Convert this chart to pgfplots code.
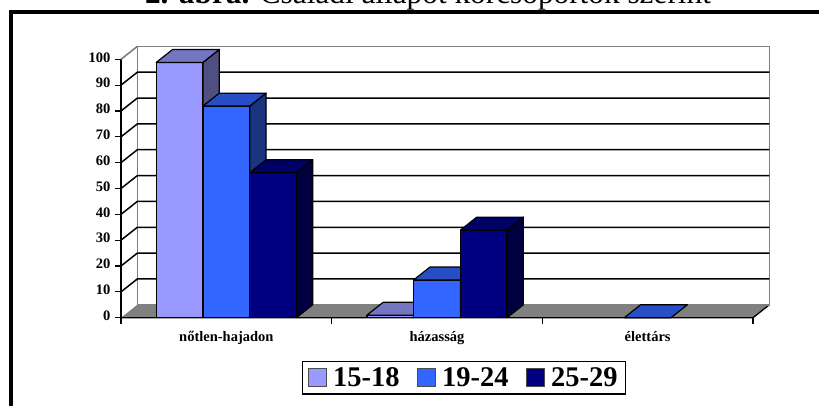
\documentclass[border=0pt]{standalone}
\usepackage{pgfplots}
\usepackage{pgfplotstable}
\usepackage{fontspec}
\setmainfont{Liberation Serif}
\pgfplotsset{compat=1.18}
\definecolor{aF}{HTML}{9999FF}\definecolor{aC}{HTML}{7575C4}\definecolor{aS}{HTML}{4F4F82}
\definecolor{bF}{HTML}{3366FF}\definecolor{bC}{HTML}{274EC4}\definecolor{bS}{HTML}{1A3580}
\definecolor{cF}{HTML}{000080}\definecolor{cC}{HTML}{000066}\definecolor{cS}{HTML}{000040}
\pgfplotstableread{
x    a     b     c
0.5  98.8  81.9  56.1
1.5  1.0   14.6  33.9
2.5  0     0     0
}\datatable
% side and top faces of a 3D bar
\newcommand\sideface[4]{%
  \pgfmathsetmacro\rr{#1+0.0775}\pgfmathsetmacro\vv{#2+5}%
  \addplot[forget plot,draw=black,line width=1.2pt,fill=#3,line join=round] coordinates {(#1,0) (\rr,5) (\rr,\vv) (#1,#2)} --cycle;}
\newcommand\capface[4]{%
  \pgfmathsetmacro\ll{#1+0.0775}\pgfmathsetmacro\rr{#2+0.0775}\pgfmathsetmacro\vv{#3+5}%
  \addplot[forget plot,draw=black,line width=1.2pt,fill=#4,line join=round] coordinates {(#1,#3) (\ll,\vv) (\rr,\vv) (#2,#3)} --cycle;}
\newcommand\wline[1]{%
  \pgfmathsetmacro\vv{#1+5}%
  \addplot[forget plot,black,line width=1.5pt] coordinates {(0,#1) (0.0775,\vv) (3.0775,\vv)};}
\begin{document}
\begin{tikzpicture}[x=1pt,y=1pt]
\useasboundingbox (0,0) rectangle (819,405);
\clip (0,0) rectangle (819,405);
\fill[white] (0,0) rectangle (819,405);
\draw[black,line width=4pt] (10.7,-5) -- (10.7,393) -- (830,393);
\node[font=\fontsize{31.3}{34}\selectfont,anchor=base] at (428,401) {\textbf{2. ábra.} Családi állapot korcsoportok szerint};
\begin{axis}[
  at={(121pt,87.3pt)},anchor=south west,scale only axis,width=632pt,height=258.4pt,
  xmin=0,xmax=3,ymin=0,ymax=100,clip=false,
  axis x line=bottom,axis y line=left,
  axis line style={-,black,line width=1.3pt},
  tick align=outside,major tick length=6pt,
  every tick/.style={black,line width=1.2pt},
  ytick={0,10,...,100},
  xtick={0,1,2,3},xticklabels={},
  extra x ticks={0.5,1.5,2.5},
  extra x tick labels={nőtlen-hajadon,házasság,élettárs},
  extra x tick style={major tick length=0pt},
  tick label style={font=\fontsize{14.5}{15}\selectfont\bfseries},
  /pgf/number format/assume math mode=true,
  yticklabel style={xshift=-1pt,yshift=2pt},
  xticklabel style={yshift=-10pt},
  legend columns=3,
  legend style={at={(0.5427,-0.232)},anchor=center,draw=black,line width=1.3pt,
    font=\fontsize{28.5}{30}\selectfont\bfseries,inner xsep=6pt,inner ysep=4pt,
    /tikz/every even column/.style={column sep=15.5pt},
    /tikz/every odd column/.style={column sep=4pt}},
  legend image code/.code={\draw[#1,draw=gray!60!black,line width=1pt] (0pt,-9pt) rectangle (18pt,9pt);},
]
% floor and walls
\addplot[forget plot,fill=gray,draw=none] coordinates {(0,0) (0.0775,5) (3.0775,5) (3,0)} --cycle;
\addplot[forget plot,black,line width=1.3pt] coordinates {(0,0) (3,0) (3.0775,5)};
\addplot[forget plot,gray,line width=1.6pt] coordinates {(0.0775,5) (0.0775,105) (3.0775,105) (3.0775,5) (0.0775,5)};
\addplot[forget plot,gray,line width=1.6pt] coordinates {(0,100) (0.0775,105)};
\wline{10}\wline{20}\wline{30}\wline{40}\wline{50}\wline{60}\wline{70}\wline{80}\wline{90}
% series 1
\addplot[ybar,bar width=0.2217,bar shift=-0.2217,fill=aF,draw=black,line width=1.2pt] table[x=x,y=a] {\datatable};
\sideface{0.389}{98.8}{aS}{}\capface{0.1675}{0.389}{98.8}{aC}
\sideface{1.389}{1.0}{aS}{}\capface{1.1675}{1.389}{1.0}{aC}
% series 2
\addplot[ybar,bar width=0.2217,bar shift=0,fill=bF,draw=black,line width=1.2pt] table[x=x,y=b] {\datatable};
\sideface{0.611}{81.9}{bS}{}\capface{0.389}{0.611}{81.9}{bC}
\sideface{1.611}{14.6}{bS}{}\capface{1.389}{1.611}{14.6}{bC}
\capface{2.389}{2.611}{0}{bC}
% series 3
\addplot[ybar,bar width=0.2217,bar shift=0.2217,fill=cF,draw=black,line width=1.2pt] table[x=x,y=c] {\datatable};
\sideface{0.8325}{56.1}{cS}{}\capface{0.611}{0.8325}{56.1}{cC}
\sideface{1.8325}{33.9}{cS}{}\capface{1.611}{1.8325}{33.9}{cC}
\legend{15-18,19-24,25-29}
\end{axis}
\end{tikzpicture}
\end{document}
